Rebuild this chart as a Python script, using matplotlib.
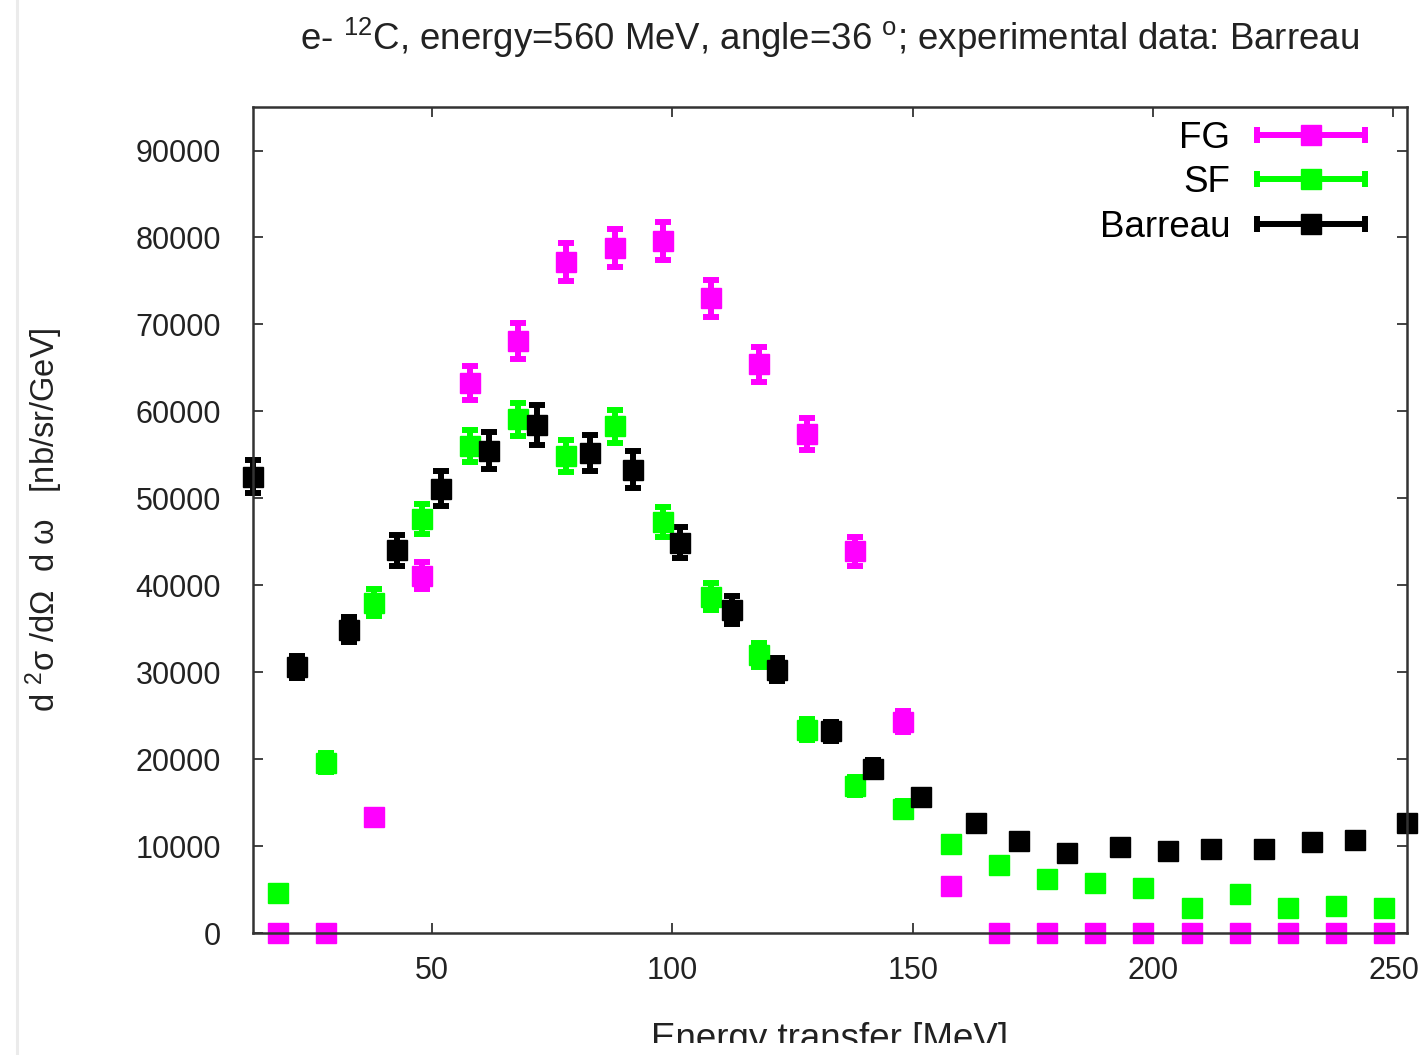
import numpy as np
import matplotlib.pyplot as plt
from matplotlib.lines import Line2D
from matplotlib.patches import Rectangle
from matplotlib.legend_handler import HandlerLine2D, HandlerTuple

plt.rcParams['font.family'] = ['Liberation Sans', 'DejaVu Sans']
plt.rcParams['mathtext.fontset'] = 'custom'
plt.rcParams['mathtext.rm'] = 'Liberation Sans'
plt.rcParams['mathtext.it'] = 'Liberation Sans:italic'

# model predictions on a 10 MeV grid
omega_model = [18, 28, 38, 48, 58, 68, 78, 88, 98, 108, 118, 128,
               138, 148, 158, 168, 178, 188, 198, 208, 218, 228, 238, 248]
fg_xsec = [0, 0, 13300, 41100, 63300, 68100, 77200, 78800, 79600, 73000, 65400, 57400,
           43900, 24300, 5450, 0, 0, 0, 0, 0, 0, 0, 0, 0]
fg_err = [0, 0, 900, 1580, 1960, 2040, 2170, 2190, 2200, 2110, 2000, 1870,
          1630, 1220, 580, 0, 0, 0, 0, 0, 0, 0, 0, 0]
sf_xsec = [4640, 19600, 38000, 47600, 56000, 59100, 54900, 58300, 47300, 38700, 32000, 23400,
           16900, 14300, 10200, 7800, 6200, 5700, 5200, 2900, 4500, 2900, 3100, 2900]
sf_err = [530, 1090, 1520, 1700, 1850, 1900, 1830, 1880, 1700, 1530, 1400, 1190,
          1010, 930, 790, 690, 610, 590, 560, 420, 520, 420, 430, 420]

# Barreau measurement
omega_data = [12.8, 21.9, 32.8, 42.8, 51.9, 61.8, 71.9, 82.8, 91.9, 101.7, 112.5, 121.7,
              133.0, 141.7, 151.7, 163.2, 172.1, 182.1, 193.1, 203.1, 212.1, 223.1, 233.1,
              242.1, 252.8]
data_xsec = [52500, 30600, 34900, 44000, 51100, 55500, 58400, 55200, 53300, 44900, 37200, 30300,
             23200, 18900, 15600, 12700, 10600, 9200, 9900, 9400, 9700, 9700, 10500,
             10700, 12600]
data_err = [1900, 1300, 1400, 1800, 2000, 2100, 2300, 2100, 2100, 1800, 1600, 1300,
            1100, 1000, 900, 800, 700, 600, 600, 600, 600, 600, 600,
            600, 700]

series = [(omega_model, fg_xsec, fg_err, '#ff00ff', 'FG'),
          (omega_model, sf_xsec, sf_err, '#00ff00', 'SF'),
          (omega_data, data_xsec, data_err, '#000000', 'Barreau')]

fig = plt.figure(figsize=(14.19, 10.55), dpi=100)
ax = fig.add_axes([0.1783, 0.1156, 0.8132, 0.7829])

ms = 14.5
lw = 4.3
cap = 5.75   # errorbar doubles this for the cap marker
handles = []
hmap = {tuple: HandlerTuple(ndivide=1, pad=0)}
for x, y, e, c, name in series:
    ax.errorbar(x, y, yerr=e, fmt='s', color=c, ms=ms, elinewidth=lw,
                capsize=cap, capthick=lw, clip_on=False)
    # gnuplot-like key sample: horizontal bar with end caps and a square
    bar = Line2D([], [], color=c, lw=lw, marker='|', ms=2 * cap, mew=lw)
    sq = Line2D([], [], color=c, ls='none', marker='s', ms=ms)
    hmap[bar] = HandlerLine2D(numpoints=2, marker_pad=0)
    handles.append((bar, sq))

ax.legend(handles, [s[4] for s in series], handler_map=hmap, loc='upper right',
          bbox_to_anchor=(0.964, 0.983), frameon=False, markerfirst=False,
          fontsize=26.5, handlelength=2.94, handletextpad=0.73, labelspacing=0.25,
          borderpad=0, borderaxespad=0)

ax.set_xlim(min(omega_data), max(omega_data))
ax.set_ylim(0, 95000)
ax.set_xticks([50, 100, 150, 200, 250])
ax.set_yticks(np.arange(0, 90001, 10000))

ax.tick_params(direction='in', top=True, right=True, length=7.5, width=1.2,
               labelsize=22, colors='#222222')
ax.tick_params(axis='x', pad=16.5)
ax.tick_params(axis='y', pad=23)
for sp in ax.spines.values():
    sp.set_color('#333333')
    sp.set_linewidth(1.8)

ax.set_title(r'e- $^{12}$C, energy=560 MeV, angle=36 $^{\rm o}$; experimental data: Barreau',
             fontsize=26.4, pad=41, color='#222222')
ax.set_xlabel('Energy transfer [MeV]', fontsize=26.5, color='#222222')
ax.xaxis.set_label_coords(0.5, -0.108)
ax.set_ylabel(r'd $^2$σ /dΩ  d ω   [nb/sr/GeV]', fontsize=23.5, color='#222222')
ax.yaxis.set_label_coords(-0.163, 0.5)

# page edge on the left and the cut-off strip at the bottom
fig.add_artist(Line2D([16.5 / 1419] * 2, [0, 1], transform=fig.transFigure,
                      color='#ebebeb', lw=2.2))
fig.add_artist(Rectangle((0.02, 0), 0.98, 12 / 1055, transform=fig.transFigure,
                         fc='white', ec='none', zorder=10))

fig.savefig('out.png', dpi=100)
